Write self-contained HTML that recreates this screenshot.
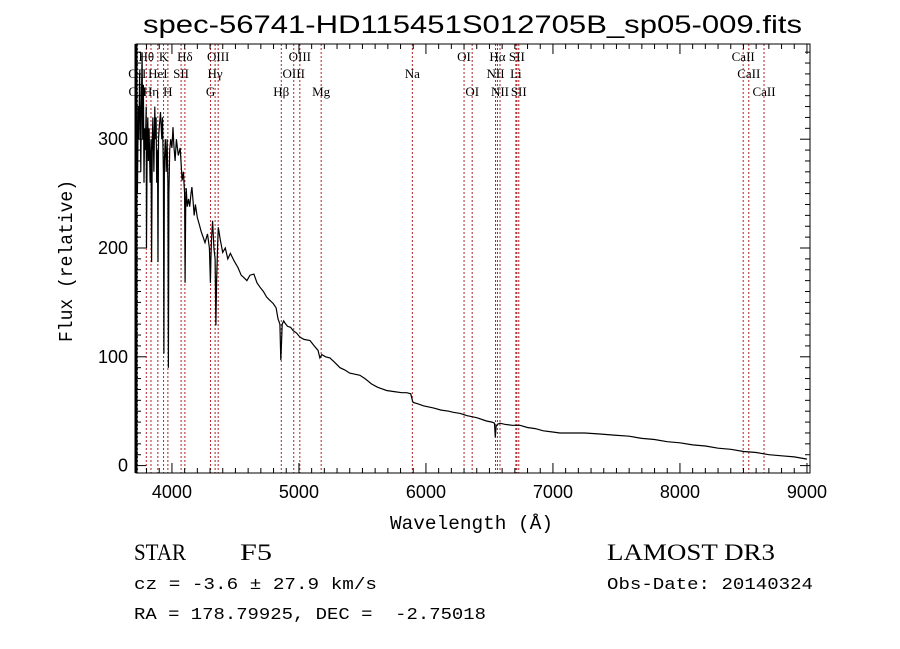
<!DOCTYPE html>
<html><head><meta charset="utf-8"><style>
body{margin:0;background:#fff;}
svg{display:block;}
</style></head><body>
<svg id="chart" width="900" height="649" viewBox="0 0 900 649" xmlns="http://www.w3.org/2000/svg" font-family="Liberation Sans, sans-serif">
<rect width="900" height="649" fill="#fff"/>
<text x="143" y="33" font-size="25" textLength="659" lengthAdjust="spacingAndGlyphs" fill="#000" style="font-family:'Liberation Sans',sans-serif">spec-56741-HD115451S012705B_sp05-009.fits</text>
<g id="lines"></g>
<g id="labels"></g>
<polyline id="spec" fill="none" stroke="#000" stroke-width="1.2"/>
<rect x="136" y="44" width="674" height="429" fill="none" stroke="#000" stroke-width="1"/>
<line x1="136" y1="44" x2="136" y2="473" stroke="#000" stroke-width="3"/>
<g id="xticks"></g>
<g id="yticks"></g>
<text x="390" y="529" textLength="163" lengthAdjust="spacingAndGlyphs" font-size="19" style="font-family:'Liberation Mono',monospace">Wavelength (Å)</text>
<text transform="translate(72,342) rotate(-90)" textLength="162" lengthAdjust="spacingAndGlyphs" font-size="19" style="font-family:'Liberation Mono',monospace">Flux (relative)</text>
<text x="134" y="560" font-size="23" textLength="52" lengthAdjust="spacingAndGlyphs" style="font-family:'Liberation Serif',serif">STAR</text>
<text x="240" y="560" font-size="23" textLength="32" lengthAdjust="spacingAndGlyphs" style="font-family:'Liberation Serif',serif">F5</text>
<text x="607" y="560" font-size="23" textLength="168" lengthAdjust="spacingAndGlyphs" style="font-family:'Liberation Serif',serif">LAMOST DR3</text>
<text x="134" y="589" font-size="17" textLength="243" lengthAdjust="spacingAndGlyphs" style="font-family:'Liberation Mono',monospace">cz = -3.6 ± 27.9 km/s</text>
<text x="607" y="589" font-size="17" textLength="206" lengthAdjust="spacingAndGlyphs" style="font-family:'Liberation Mono',monospace">Obs-Date: 20140324</text>
<text x="134" y="619" font-size="17" textLength="352" lengthAdjust="spacingAndGlyphs" style="font-family:'Liberation Mono',monospace" xml:space="preserve">RA = 178.79925, DEC =  -2.75018</text>
</svg>
<script>
const wavelengths=[3717,3722,3728,3735,3740,3745,3750,3755,3760,3765,3770,3775,3780,3785,3790,3797,3800,3805,3810,3815,3820,3828,3835,3840,3845,3850,3858,3865,3870,3875,3880,3886,3890,3894,3900,3910,3920,3926,3933,3937,3941,3948,3955,3962,3968,3972,3976,3982,3990,4000,4008,4015,4025,4035,4050,4065,4080,4090,4100,4104,4108,4112,4120,4130,4140,4150,4157,4165,4175,4185,4200,4215,4230,4245,4260,4280,4295,4303,4307,4312,4320,4330,4340,4346,4352,4360,4365,4380,4400,4420,4440,4460,4490,4520,4545,4565,4590,4615,4645,4670,4693,4720,4745,4770,4797,4820,4835,4850,4857,4862,4868,4880,4890,4910,4935,4955,4980,5008,5040,5087,5120,5150,5165,5180,5210,5244,5280,5323,5360,5400,5440,5480,5520,5572,5620,5690,5750,5810,5848,5880,5893,5900,5930,5980,6058,6120,6180,6215,6270,6320,6400,6477,6520,6540,6546,6552,6563,6583,6620,6680,6740,6800,6860,6924,6990,7055,7150,7250,7370,7480,7600,7700,7800,7900,8000,8100,8200,8300,8400,8500,8600,8700,8800,8900,9000];
const fluxValues=[60,290,250,330,300,360,327,270,340,380,300,350,260,310,290,330,200,300,320,280,310,260,300,187,300,320,270,330,300,320,260,290,187,300,310,325,300,320,270,103,280,300,270,300,260,90,250,290,300,292,311,295,280,300,285,292,262,270,250,168,240,255,238,245,238,250,256,245,230,240,228,222,215,210,205,213,200,168,190,210,225,200,190,129,170,205,219,208,196,200,190,195,188,182,175,173,170,175,176,168,164,160,155,152,149,145,135,130,97,110,130,133,131,128,127,124,122,118,116,115,110,106,99,102,100,99,95,90,88,85,84,83,80,75,72,69,68,67,67,66,60,58,57,55,53,51,50,49,48,46,44,41,40,39,26,36,38,39,38,37,37,35,34,32,31,30,30,30,29,28,27,25,24,22,21,19,18,16,15,13,12,10,9,8,6];
const lineWaves=[3727,3729,3798,3835,3889,3934,3968,4072,4102,4304,4340,4364,4861,4959,5007,5175,5893,6300,6364,6548,6563,6583,6708,6716,6731,8498,8542,8662];
const lineNames=["OII","OII","Hθ","Hη","HeI","K","H","SII","Hδ","G","Hγ","OIII","Hβ","OIII","OIII","Mg","Na","OI","OI","NII","Hα","NII","Li","SII","SII","CaII","CaII","CaII"];
const lineRows=[2,3,1,3,2,1,3,2,1,3,2,1,3,2,1,3,2,1,3,2,1,3,2,1,3,1,2,3];
const xTickLabels=[4000,5000,6000,7000,8000,9000];
const yTickLabels=[0,100,200,300];
const X0=136,X1=810,Y0=44,Y1=473,WMIN=3717,WMAX=9024,FMIN=-6.8,FMAX=387.5;
const xs=w=>X0+(w-WMIN)/(WMAX-WMIN)*(X1-X0);
const ys=f=>Y1-(f-FMIN)/(FMAX-FMIN)*(Y1-Y0);
const NS="http://www.w3.org/2000/svg";
function mk(tag,attrs,parent){const e=document.createElementNS(NS,tag);for(const k in attrs)e.setAttribute(k,attrs[k]);parent.appendChild(e);return e;}
const n=Math.min(wavelengths.length,fluxValues.length);
const pts=wavelengths.slice(0,n).map((w,i)=>xs(w).toFixed(1)+","+ys(fluxValues[i]).toFixed(1)).join(" ");
document.getElementById('spec').setAttribute('points',pts);
const lg=document.getElementById('lines'),lb=document.getElementById('labels');
const rowY={1:61,2:78,3:96};
lineWaves.forEach((w,i)=>{
  const l=mk('line',{x1:xs(w),x2:xs(w),y1:Y0,y2:Y1,stroke:'#b22222','stroke-width':1,'stroke-dasharray':'2,2'},lg);
  
  
  const t=mk('text',{x:xs(w),y:rowY[lineRows[i]],'text-anchor':'middle','font-size':13,style:"font-family:'Liberation Serif',serif"},lb);
  t.textContent=lineNames[i];
  
  
});
const xt=document.getElementById('xticks');
for(let w=3800;w<=9000;w+=100){
  const major=w%1000===0;const len=major?10:5;
  mk('line',{x1:xs(w),x2:xs(w),y1:Y1,y2:Y1-len,stroke:'#000'},xt);
  mk('line',{x1:xs(w),x2:xs(w),y1:Y0,y2:Y0+len,stroke:'#000'},xt);
}
xTickLabels.forEach(v=>{const t=mk('text',{x:xs(v),y:Y1+25,'text-anchor':'middle','font-size':18},xt);t.textContent=v;
  
  });
const yt=document.getElementById('yticks');
for(let f=0;f<=380;f+=10){
  const major=f%100===0;const len=major?10:5;
  mk('line',{x1:X0,x2:X0+len,y1:ys(f),y2:ys(f),stroke:'#000'},yt);
  mk('line',{x1:X1,x2:X1-len,y1:ys(f),y2:ys(f),stroke:'#000'},yt);
}
yTickLabels.forEach(v=>{const t=mk('text',{x:X0-8,y:ys(v)+6,'text-anchor':'end','font-size':18},yt);t.textContent=v;
  
  });
</script>
</body></html>
